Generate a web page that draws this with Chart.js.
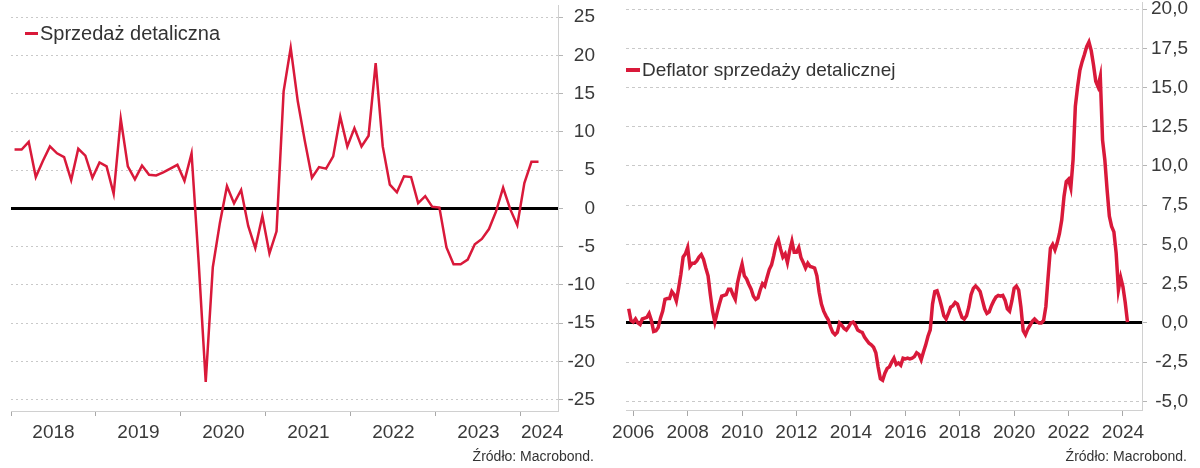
<!DOCTYPE html>
<html>
<head>
<meta charset="utf-8">
<script src="https://cdn.jsdelivr.net/npm/chart.js@4.4.1/dist/chart.umd.min.js"></script>
<style>
    body { margin: 0; background: #fff; font-family: "Liberation Sans", Arial, sans-serif; }
    #wrap { position: relative; width: 1200px; height: 468px; overflow: hidden; }
    .box { position: absolute; top: 0; width: 600px; height: 468px; }
    .legend { position: absolute; color: #333; white-space: nowrap; line-height: 22px; }
    .legend i { display: inline-block; vertical-align: middle; background: #d9193a; margin-right: 2px; position: relative; top: -1px; }
    .src { position: absolute; font-size: 14px; color: #333; white-space: nowrap; top: 448px; text-align: right; }
</style>
</head>
<body>
<div id="wrap">
    <div class="box" style="left:0"><canvas id="salesChart" width="600" height="468"></canvas></div>
    <div class="box" style="left:600px"><canvas id="deflatorChart" width="600" height="468"></canvas></div>

    <div class="legend" style="left:25px; top:22px; font-size:20px"><i style="width:13px;height:3px"></i>Sprzedaż detaliczna</div>
    <div class="legend" style="left:626px; top:59px; font-size:19px"><i style="width:14px;height:4px"></i>Deflator sprzedaży detalicznej</div>

    <div class="src" style="right:606px">Źródło: Macrobond.</div>
    <div class="src" style="right:13px">Źródło: Macrobond.</div>
</div>

<script>
const RED = '#d9193a';
const TEXT = '#3a3a3a';

// retail sales, % y/y, monthly from Jan 2018
const salesValues = [
    7.7, 7.7, 8.7, 4.1, 6.2, 8.1, 7.2, 6.7, 3.7, 7.8, 6.9, 4.0,
    6.0, 5.5, 1.9, 11.7, 5.5, 3.8, 5.6, 4.4, 4.3, 4.7, 5.2, 5.7,
    3.6, 7.2, -7.0, -22.7, -7.7, -1.9, 2.9, 0.65, 2.4, -2.3, -5.2, -1.0,
    -5.9, -3.0, 15.3, 21.0, 14.0, 8.8, 4.0, 5.4, 5.2, 6.8, 12.0, 8.1,
    10.5, 8.1, 9.5, 19.0, 8.1, 3.1, 2.1, 4.2, 4.1, 0.7, 1.6, 0.2,
    0.1, -5.1, -7.3, -7.3, -6.7, -4.7, -4.0, -2.7, -0.4, 2.7, -0.1, -2.2,
    3.3, 6.1, 6.1
];
const salesYears = ['2018', '2019', '2020', '2021', '2022', '2023', '2024'];
const salesYearStarts = [0, 12, 24, 36, 48, 60, 72];   // months since Jan 2018
const salesLabelPos = [6, 18, 30, 42, 54, 66, 75];
const salesYTicks = [-25, -20, -15, -10, -5, 0, 5, 10, 15, 20, 25];

// retail sales deflator, % y/y, monthly from Nov 2005
const deflatorStart = -2;   // months since Jan 2006
const deflatorValues = [
    0.9, 0.15,
    0.05, 0.25, 0.0, -0.1, 0.25, 0.3, 0.35, 0.6, 0.15, -0.55, -0.5, -0.3,
    0.3, 0.75, 1.5, 1.55, 1.55, 2.0, 1.8, 1.4, 2.2, 3.1, 4.2, 4.4,
    4.8, 3.6, 3.8, 3.8, 3.95, 4.2, 4.35, 4.05, 3.5, 3.0, 1.8, 0.75,
    0.05, 0.65, 1.2, 1.7, 1.75, 1.8, 2.15, 2.15, 1.8, 1.5, 2.55, 3.2,
    3.75, 3.0, 2.8, 2.45, 2.15, 1.7, 1.5, 1.6, 2.1, 2.5, 2.35, 2.9,
    3.4, 3.7, 4.3, 5.0, 5.3, 4.7, 4.2, 4.4, 3.85, 4.6, 5.2, 4.5,
    4.5, 4.8, 4.15, 3.85, 3.5, 3.8, 3.6, 3.55, 3.5, 3.0, 1.95, 1.2,
    0.75, 0.45, 0.2, -0.25, -0.6, -0.75, -0.6, 0.0, -0.15, -0.35, -0.45, -0.25,
    0.0, 0.05, -0.15, -0.45, -0.55, -0.6, -0.9, -1.1, -1.3, -1.4, -1.55, -1.9,
    -2.8, -3.55, -3.65, -3.2, -2.9, -2.8, -2.5, -2.25, -2.65, -2.55, -2.7, -2.25,
    -2.3, -2.25, -2.3, -2.25, -2.15, -1.9, -2.0, -2.35, -1.85, -1.4, -0.85, -0.45,
    1.2, 2.0, 2.05, 1.6, 1.05, 0.45, 0.25, 0.6, 1.0, 1.1, 1.3, 1.2,
    0.75, 0.35, 0.25, 0.45, 1.0, 1.8, 2.2, 2.35, 2.2, 2.0, 1.45, 0.9,
    0.6, 0.7, 1.1, 1.4, 1.65, 1.75, 1.7, 1.75, 1.45, 0.9, 0.75, 1.4,
    2.2, 2.35, 2.1, 1.0, -0.5, -0.75, -0.4, -0.15, 0.1, 0.25, 0.1, 0.0,
    0.0, 0.15, 1.05, 2.95, 4.75, 5.0, 4.65, 5.1, 5.7, 6.55, 8.05, 9.0,
    9.15, 8.6, 10.4, 13.8, 15.05, 16.1, 16.65, 17.1, 17.6, 17.9, 17.35, 16.45,
    15.4, 15.05, 15.7, 11.65, 10.4, 8.5, 6.8, 6.15, 5.8, 4.45, 2.1, 2.9,
    2.3, 1.3, 0.05
];
const deflatorYears = ['2006', '2008', '2010', '2012', '2014', '2016', '2018', '2020', '2022', '2024'];
const deflatorYearPos = [0, 24, 48, 72, 96, 120, 144, 168, 192, 216];
const deflatorYTicks = [-5, -2.5, 0, 2.5, 5, 7.5, 10, 12.5, 15, 17.5, 20];

Chart.defaults.font.family = '"Liberation Sans", Arial, sans-serif';
Chart.defaults.animation = false;

const isZero = ctx => ctx.tick && ctx.tick.value === 0;

function yAxis(min, max, ticks, fmt, dash, width) {
    return {
        position: 'right', min: min, max: max,
        afterBuildTicks: s => { s.ticks = ticks.map(v => ({value: v})); },
        ticks: {color: TEXT, font: {size: 19}, padding: 4, crossAlign: 'far', callback: fmt},
        grid: {
            color: ctx => isZero(ctx) ? '#000' : '#c9c9c9',
            lineWidth: ctx => isZero(ctx) ? 3 : 1,
            tickColor: '#b5b5b5', tickLength: 5, tickWidth: 1
        },
        border: {color: '#d0d0d0', width: 1, dash: ctx => (ctx.tick && !isZero(ctx)) ? dash : []},
        afterFit: s => { s.width = width; s.paddingTop = 0; s.paddingBottom = 0; }
    }
}

// left: retail sales
new Chart(document.getElementById('salesChart'), {
    type: 'line',
    data: {
        datasets: [{
            label: 'Sprzedaż detaliczna',
            data: salesValues.map((v, i) => ({x: i + 0.5, y: v})),
            borderColor: RED, borderWidth: 2.5, pointRadius: 0, tension: 0,
            xAxisID: 'x', yAxisID: 'y'
        }]
    },
    options: {
        responsive: false,
        layout: {padding: {left: 11, top: 5, right: 5, bottom: 0}},
        plugins: {legend: {display: false}, tooltip: {enabled: false}},
        scales: {
            xTicks: {
                type: 'linear', position: 'bottom', min: 0, max: 77.25, weight: 0,
                afterBuildTicks: s => { s.ticks = salesYearStarts.map(v => ({value: v})); },
                ticks: {display: false},
                grid: {drawOnChartArea: false, drawTicks: true, tickLength: 5, color: '#a8a8a8'},
                border: {color: '#d0d0d0'},
                afterFit: s => { s.height = 6; }
            },
            x: {
                type: 'linear', position: 'bottom', min: 0, max: 77.25, weight: 1,
                afterBuildTicks: s => { s.ticks = salesLabelPos.map(v => ({value: v})); },
                ticks: {color: TEXT, font: {size: 19}, padding: 4, maxRotation: 0, autoSkip: false,
                    callback: (v, i) => salesYears[i]},
                grid: {display: false, drawTicks: false},
                border: {display: false},
                afterFit: s => { s.height = 51; }
            },
            y: yAxis(-26.5, 26.6, salesYTicks, v => String(v), [2, 3], 37)
        }
    }
});

// right: deflator
new Chart(document.getElementById('deflatorChart'), {
    type: 'line',
    data: {
        datasets: [{
            label: 'Deflator sprzedaży detalicznej',
            data: deflatorValues.map((v, i) => ({x: deflatorStart + i, y: v})),
            borderColor: RED, borderWidth: 3.5, pointRadius: 0, tension: 0,
            xAxisID: 'x', yAxisID: 'y'
        }]
    },
    options: {
        responsive: false,
        layout: {padding: {left: 26, top: 2, right: 12, bottom: 0}},
        plugins: {legend: {display: false}, tooltip: {enabled: false}},
        scales: {
            x: {
                type: 'linear', position: 'bottom', min: -3.2, max: 224.4,
                afterBuildTicks: s => { s.ticks = deflatorYearPos.map(v => ({value: v})); },
                ticks: {color: TEXT, font: {size: 19}, padding: 5, maxRotation: 0, autoSkip: false,
                    callback: (v, i) => deflatorYears[i]},
                grid: {drawOnChartArea: false, drawTicks: true, tickLength: 6, color: '#a8a8a8'},
                border: {color: '#d0d0d0'},
                afterFit: s => { s.height = 58; }
            },
            y: yAxis(-5.55, 20.45, deflatorYTicks, v => v.toFixed(1).replace('.', ','), [3, 3], 46)
        }
    }
});
</script>
</body>
</html>
